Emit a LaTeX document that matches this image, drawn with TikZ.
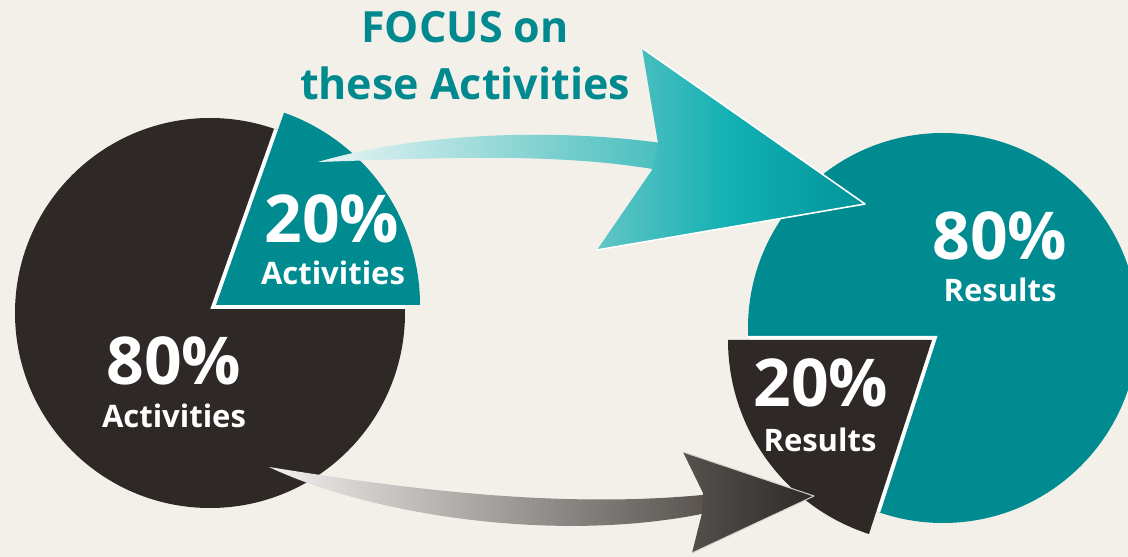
\documentclass[tikz,border=0pt]{standalone}
\usepackage{fontspec}
\usetikzlibrary{calc}
\setmainfont{Open Sans}
\definecolor{bg}{HTML}{F3F0E9}
\definecolor{darkpie}{HTML}{2E2926}
\definecolor{tealpie}{HTML}{008B91}
\definecolor{titleteal}{HTML}{008A8F}
\definecolor{tshaftA}{HTML}{EAF5F4}
\definecolor{tshaftB}{HTML}{45BDBD}
\definecolor{theadA}{HTML}{62C5C5}
\definecolor{theadB}{HTML}{12B0B3}
\definecolor{theadC}{HTML}{00949A}
\definecolor{bshaftA}{HTML}{F2F1EF}
\definecolor{bshaftB}{HTML}{56514D}
\definecolor{bheadA}{HTML}{57524E}
\definecolor{bheadB}{HTML}{2E2A27}
\begin{document}
\begin{tikzpicture}[x=1pt,y=1pt,
  pct/.style={text=white,font=\bfseries\fontsize{66}{66}\selectfont,anchor=base,inner sep=0pt},
  lbl/.style={text=white,font=\bfseries\fontsize{31}{31}\selectfont,anchor=base,inner sep=0pt},
  ttl/.style={text=titleteal,font=\bfseries\fontsize{43}{43}\selectfont,anchor=base,inner sep=0pt},
  gap/.style={white,line width=8pt,line join=miter}]
% canvas
\fill[bg] (0,0) rectangle (1128,557);
\clip (0,0) rectangle (1128,557);

% ---- left pie: 80% dark, 20% teal slice pulled out ----
\coordinate (lc) at (210,244);
\coordinate (ls) at (216,252);
\fill[darkpie] (lc) circle[radius=195pt];
\begin{scope}
  \clip (lc) circle[radius=195pt];
  \draw[gap] ($(ls)+(70.5:204pt)$) -- (ls) -- ++(204pt,0);
\end{scope}
\fill[tealpie] (ls) -- ++(204pt,0) arc[start angle=0,end angle=70.5,radius=204pt] -- cycle;

% ---- right pie: 80% teal, 20% dark slice pulled out ----
\coordinate (rc) at (943,229);
\coordinate (rs) at (932,217);
\fill[tealpie] (rc) circle[radius=195pt];
\begin{scope}
  \clip (rc) circle[radius=195pt];
  \draw[gap] ($(rs)+(-204pt,0)$) -- (rs) -- ($(rs)+(252:204pt)$);
\end{scope}
\fill[darkpie] (rs) -- ++(-204pt,0) arc[start angle=180,end angle=252,radius=204pt] -- cycle;

% ---- labels ----
\node[ttl] (focus) at (465,514) {FOCUS on};
\node[ttl] (these) at (465,457) {these Activities};
\node[pct] (lsmallp) at (332,314) {20\%};
\node[lbl] (lsmalll) at (333,272) {Activities};
\node[pct] (lbigp) at (174,172) {80\%};
\node[lbl] (lbigl) at (174,129) {Activities};
\node[pct] (rbigp) at (1000,297) {80\%};
\node[lbl] (rbigl) at (1000,255) {Results};
\node[pct] (rsmallp) at (821,150) {20\%};
\node[lbl] (rsmalll) at (820,105) {Results};

% ---- upper arrow: from the 20% activities to the 80% results ----
\coordinate (ttail) at (318,395);
\coordinate (tjtop) at (658,414);
\coordinate (tjbot) at (652,387);
\coordinate (tback1) at (642,509);
\coordinate (ttip) at (865,353);
\coordinate (tback2) at (597,307);
\shade[left color=tshaftA,right color=tshaftB]
  (ttail) .. controls (420,425) and (560,429) .. (668,413)
  -- (664,386) .. controls (560,405) and (440,399) .. (ttail) -- cycle;
\shade[left color=theadA,right color=theadC,middle color=theadB]
  (tjtop) -- (tback1) -- (ttip) -- (tback2) -- (tjbot) -- cycle;
\draw[white,line width=1.6pt,line join=round] (tback1) -- (ttip) -- (tback2);

% ---- lower arrow: from the 80% activities to the 20% results ----
\coordinate (btail) at (269,90);
\coordinate (bjtop) at (703,64);
\coordinate (bjbot) at (702,44);
\coordinate (bback1) at (683,105);
\coordinate (btip) at (814,61);
\coordinate (bback2) at (692,4);
\shade[left color=bshaftA,right color=bshaftB]
  (btail) .. controls (400,69) and (560,47) .. (712,63)
  -- (711,45) .. controls (560,12) and (370,42) .. (btail) -- cycle;
\shade[left color=bheadA,right color=bheadB]
  (bjtop) -- (bback1) -- (btip) -- (bback2) -- (bjbot) -- cycle;
\draw[white!75!bheadA,line width=1pt,line join=round] (bback1) -- (btip) -- (bback2);
\end{tikzpicture}
\end{document}
